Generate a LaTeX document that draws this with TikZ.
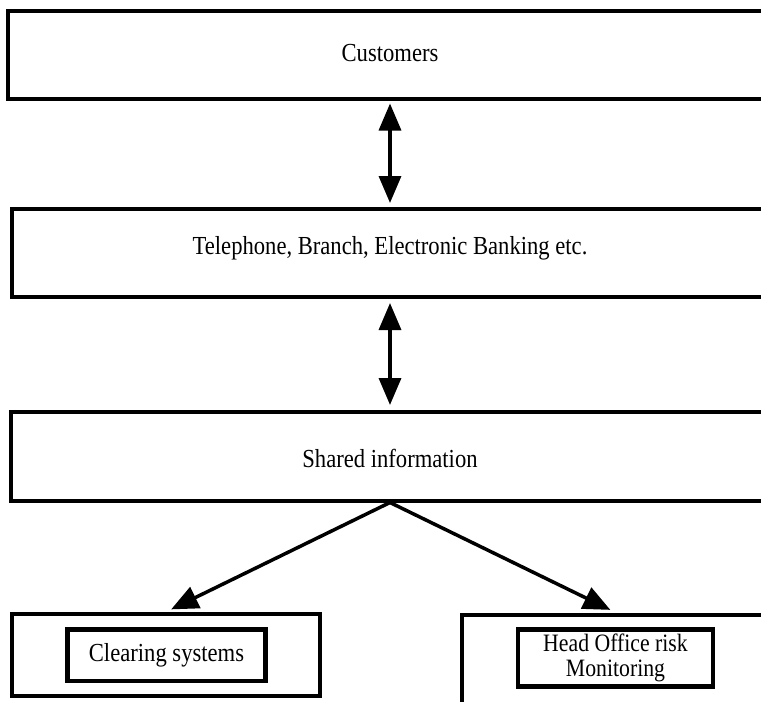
\documentclass[tikz,border=0pt]{standalone}
\usepackage{fontspec}
\newfontfamily\boxfont[FakeStretch=0.87]{Liberation Serif}
\usetikzlibrary{arrows.meta}

\begin{document}
\begin{tikzpicture}[x=1pt, y=-1pt,
  wide box/.style={draw, line width=4pt, inner sep=0pt, font=\boxfont\fontsize{26}{27}\selectfont},
  inner box/.style={draw, line width=4.5pt, inner sep=0pt, align=center, font=\boxfont\fontsize{25}{25}\selectfont},
  link/.style={line width=3.5pt, -{Triangle[length=27pt,width=23pt]}},
  both/.style={line width=3.5pt, {Triangle[length=27pt,width=22pt]}-{Triangle[length=27pt,width=22pt]}}]
\useasboundingbox (0,0) rectangle (761,702);
\clip (0,0) rectangle (761,702);
% the three wide layers, cut off on the right
\node[wide box, minimum width=764pt, minimum height=88pt, text depth=4pt] (cust) at (390,54.5) {Customers};
\node[wide box, minimum width=756pt, minimum height=87.5pt, text depth=15pt] (chan) at (390,252.75) {Telephone, Branch, Electronic Banking etc.};
\node[wide box, minimum width=758pt, minimum height=89pt, text height=24pt] (shared) at (390,456) {Shared information};
% bottom row
\node[wide box, minimum width=308.5pt, minimum height=82pt] (clear) at (165.75,655) {};
\node[inner box, minimum width=198pt, minimum height=51.5pt, font=\boxfont\fontsize{26}{27}\selectfont] (clearin) at (166.5,655.25) {Clearing systems};
\node[wide box, minimum width=308.5pt, minimum height=105.5pt] (risk) at (615.75,667.25) {};
\node[inner box, minimum width=195pt, minimum height=57pt] (riskin) at (615.5,658) {Head Office risk\\Monitoring};

\draw[both, shorten <=3pt, shorten >=4pt] (cust.south) -- (chan.north);
\draw[both, shorten <=4.5pt, shorten >=4.5pt] (chan.south) -- (shared.north);
\draw[link, shorten >=6pt] (shared.south) -- (clear.north);
\draw[link, shorten >=6pt] (shared.south) -- (risk.north);
\end{tikzpicture}
\end{document}
